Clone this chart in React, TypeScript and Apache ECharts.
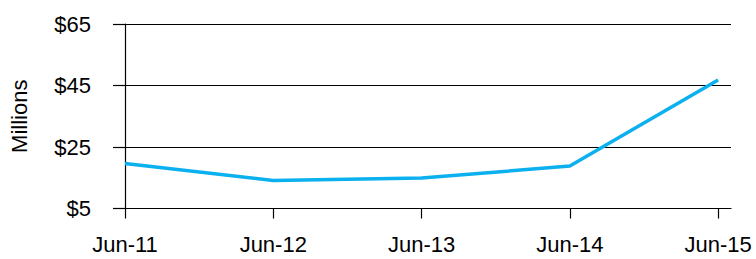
import React, { useEffect, useRef } from "react";
import * as echarts from "echarts";

const categories = ["Jun-11", "Jun-12", "Jun-13", "Jun-14", "Jun-15"];
const values = [19.6, 14.1, 14.9, 18.8, 46.8];
const yTicks = [5, 25, 45, 65];

export default function App() {
  const ref = useRef<HTMLDivElement>(null);
  useEffect(() => {
    document.body.style.margin = "0";
    const chart = echarts.init(ref.current!, undefined, { renderer: "svg" });
    const font = "'Liberation Sans', Arial, Helvetica, sans-serif";
    chart.setOption({
      animation: false,
      grid: { left: 122, right: 25, top: 24, bottom: 50.5, containLabel: false },
      xAxis: {
        type: "value",
        min: 0,
        max: 4.087,
        splitLine: { show: false },
        axisLine: { show: true, onZero: false, lineStyle: { color: "#000", width: 1.2 } },
        axisTick: {
          show: true,
          length: 10,
          customValues: categories.map((_, i) => i),
          lineStyle: { color: "#000", width: 1.2 },
        },
        axisLabel: {
          customValues: categories.map((_, i) => i),
          formatter: (v: number) => categories[Math.round(v)] ?? "",
          color: "#000",
          fontSize: 22,
          fontFamily: font,
          margin: 25,
        },
      },
      yAxis: {
        type: "value",
        min: yTicks[0],
        max: yTicks[yTicks.length - 1],
        interval: 20,
        name: "Millions",
        nameLocation: "middle",
        nameRotate: 90,
        nameGap: 95,
        nameTextStyle: { color: "#000", fontSize: 22, fontFamily: font },
        axisLine: { show: true, lineStyle: { color: "#000", width: 1.2 } },
        axisTick: { show: true, length: 12, lineStyle: { color: "#000", width: 1.2 } },
        splitLine: { show: true, lineStyle: { color: "#000", width: 1.2 } },
        axisLabel: {
          formatter: (v: number) => "$" + v,
          color: "#000",
          fontSize: 22,
          fontFamily: font,
          margin: 34,
        },
      },
      series: [
        {
          type: "line",
          data: values.map((v, i) => [i, v]),
          showSymbol: false,
          symbol: "none",
          lineStyle: { color: "#0bb0ee", width: 3.5 },
        },
      ],
    });
    return () => chart.dispose();
  }, []);
  return <div ref={ref} style={{ width: 756, height: 259 }} />;
}
